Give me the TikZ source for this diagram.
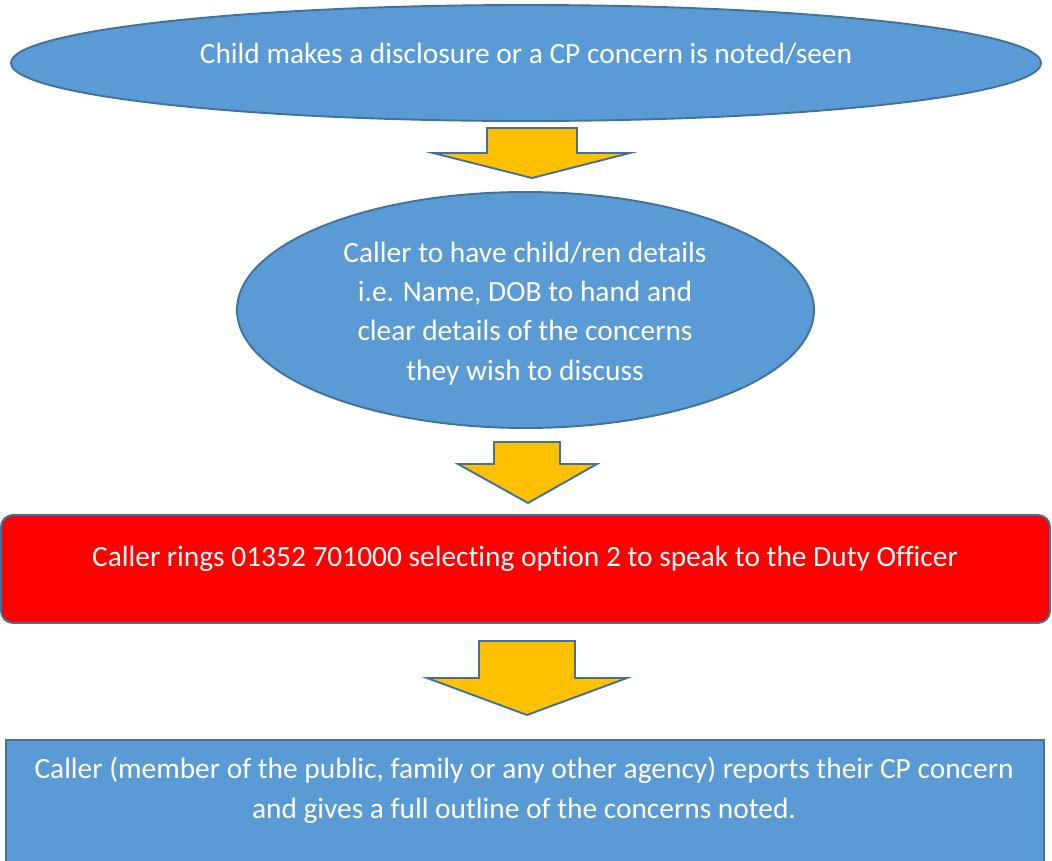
\documentclass[tikz,border=0pt]{standalone}
\usepackage{fontspec}
\setmainfont{Carlito}[Ligatures=NoCommon]
\usetikzlibrary{shapes.geometric}
\definecolor{bfill}{HTML}{5B9BD5}
\definecolor{bline}{HTML}{41719C}
\definecolor{afill}{HTML}{FFC000}
\definecolor{rfill}{HTML}{FF0000}
\begin{document}
\begin{tikzpicture}[x=1pt,y=-1pt,
  shapeline/.style={draw=bline, line width=1.9pt},
  oval/.style={shapeline, ellipse, fill=bfill, inner sep=0pt},
  blockarrow/.style={shapeline, fill=afill, line join=miter},
  txt/.style={text=white, font={\fontsize{29.4}{39.3}\selectfont}, align=center, inner sep=0pt, anchor=base}]
\useasboundingbox (0,0) rectangle (1052,860);
\clip (0,0) rectangle (1052,860);
% ovals
\node[oval, minimum width=1030pt, minimum height=116pt] (e1) at (526,63) {};
\node[txt] (t1) at (526,63) {Child makes a disclosure or a CP concern is noted/seen};
\node[oval, minimum width=577pt, minimum height=236pt] (e2) at (525.5,310) {};
\node[txt] (t2) at (525,380) {Caller to have child/ren details\\i.e. Name, DOB to hand and\\clear details of the concerns\\they wish to discuss};
% red box
\node[shapeline, fill=rfill, rounded corners=12pt, minimum width=1049pt, minimum height=108pt, inner sep=0pt] (r) at (525.5,569) {};
\node[txt] (t3) at (525,566) {Caller rings 01352 701000 selecting option 2 to speak to the Duty Officer};
% blue box
\node[shapeline, fill=bfill, minimum width=1038pt, minimum height=200pt, inner sep=0pt, anchor=north west] (b) at (5,739) {};
\node[txt] (t4) at (524,818) {Caller (member of the public, family or any other agency) reports their CP concern\\and gives a full outline of the concerns noted.};
% block arrows
\draw[blockarrow] (487,128) -- (577,128) -- (577,153) -- (630,153) -- (532,178) -- (433,153) -- (487,153) -- cycle;
\draw[blockarrow] (494,442) -- (560,442) -- (560,464) -- (597,464) -- (528,503) -- (458,464) -- (494,464) -- cycle;
\draw[blockarrow] (479,641) -- (575,641) -- (575,678) -- (627,678) -- (527,715) -- (427,678) -- (479,678) -- cycle;
\end{tikzpicture}
\end{document}
